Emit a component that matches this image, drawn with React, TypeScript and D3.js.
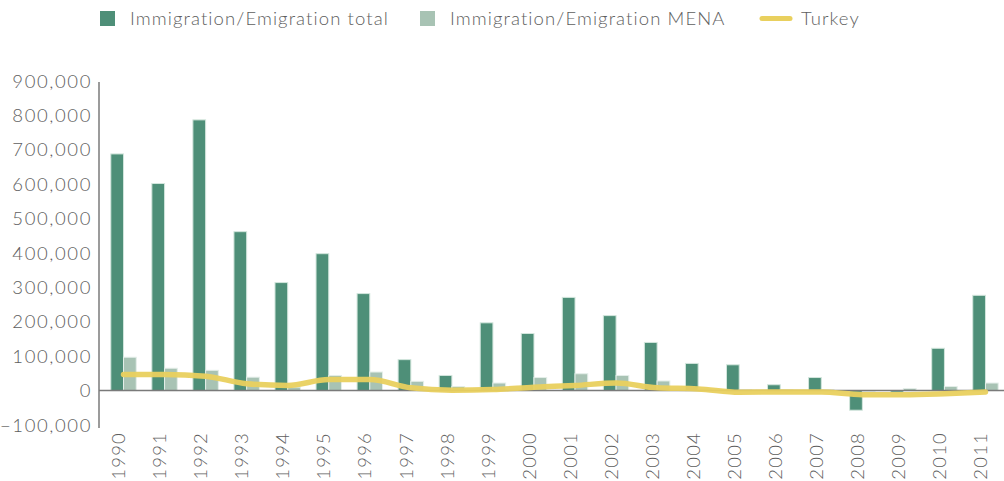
import React from 'react';
import * as d3 from 'd3';

// values
const years = ['1990', '1991', '1992', '1993', '1994', '1995', '1996', '1997', '1998', '1999', '2000',
  '2001', '2002', '2003', '2004', '2005', '2006', '2007', '2008', '2009', '2010', '2011'];
const totalValues = [688000, 602000, 787000, 462000, 314000, 398000, 282000, 90000, 44000, 197000, 166000,
  271000, 218000, 140000, 79000, 75000, 17000, 38000, -57000, -5000, 123000, 277000];
const menaValues = [97000, 65000, 59000, 39000, 10000, 44000, 54000, 27000, 12000, 22000, 38000,
  49000, 44000, 28000, 3000, 2000, 2000, 2000, -2000, 6000, 12000, 22000];
const turkeyValues = [47000, 47000, 42000, 20000, 15000, 32000, 32000, 8000, 1000, 3000, 10000,
  15000, 22000, 8000, 5000, -5000, -4000, -4000, -12000, -12000, -9000, -4000];
const yTicks = [-100000, 0, 100000, 200000, 300000, 400000, 500000, 600000, 700000, 800000, 900000];
const seriesNames = ['Immigration/Emigration total', 'Immigration/Emigration MENA', 'Turkey'];

const W = 1004;
const H = 481;
const font = 'Lato, "Open Sans", sans-serif';
const totalColor = '#4e8f78';
const menaColor = '#a8c3b4';
const lineColor = '#e9d05e';
const textColor = '#5e5e5e';

export default function App() {
  const x = d3.scaleBand<string>().domain(years).range([103, 1006]).paddingInner(0.38).paddingOuter(0.19);
  const sub = d3.scaleBand<string>().domain(['total', 'mena']).range([0, x.bandwidth()]);
  const y = d3.scaleLinear().domain([-100000, 900000]).range([425, 81]);
  const fmt = d3.format(',');

  const line = d3.line<number>()
    .x((_, i) => x(years[i])! + x.bandwidth() / 2)
    .y(d => y(d))
    .curve(d3.curveMonotoneX);

  const bar = (v: number) => ({ y: Math.min(y(v), y(0)), h: Math.abs(y(v) - y(0)) });

  return (
    <svg width={W} height={H} style={{ position: 'absolute', left: 0, top: 0, background: '#fff' }}
      fontFamily={font} fontWeight={300}>
      {/* legend */}
      <g fontSize={18.5} fill={textColor} letterSpacing={1.1}>
        <rect x={100} y={11} width={15} height={15} fill={totalColor} />
        <text x={130} y={25}>{seriesNames[0]}</text>
        <rect x={420} y={11} width={15} height={15} fill={menaColor} />
        <text x={450} y={25}>{seriesNames[1]}</text>
        <line x1={762} x2={790} y1={18.5} y2={18.5} stroke={lineColor} strokeWidth={5} strokeLinecap="round" />
        <text x={801} y={25}>{seriesNames[2]}</text>
      </g>

      {/* y axis labels */}
      <g fontSize={18.5} fill={textColor} textAnchor="end" letterSpacing={1.6}>
        {yTicks.map(t => (
          <text key={t} x={92} y={y(t)} dy="0.36em">{fmt(t)}</text>
        ))}
      </g>

      {/* bars */}
      <g>
        {years.map((yr, i) => {
          const a = bar(totalValues[i]);
          const b = bar(menaValues[i]);
          return (
            <g key={yr} transform={`translate(${x(yr)},0)`}>
              <rect x={sub('total')} y={a.y} width={sub.bandwidth()} height={a.h}
                fill={totalColor} stroke="#d3e6dd" strokeWidth={1} />
              <rect x={sub('mena')} y={b.y} width={sub.bandwidth()} height={b.h}
                fill={menaColor} stroke="#e4eee9" strokeWidth={1} />
            </g>
          );
        })}
      </g>

      {/* axes lines */}
      <line x1={99} x2={99} y1={82} y2={428} stroke="#7a7a7a" strokeWidth={1.5} />
      <line x1={99} x2={W} y1={y(0)} y2={y(0)} stroke="#7a7a7a" strokeWidth={1.5} />

      {/* Turkey line */}
      <path d={line(turkeyValues)!} fill="none" stroke={lineColor} strokeWidth={5.5} strokeLinejoin="round"
        strokeLinecap="round" strokeOpacity={0.95} />

      {/* x labels */}
      <g fontSize={18.5} fill={textColor} textAnchor="end" letterSpacing={1.2}>
        {years.map(yr => {
          const cx = x(yr)! + x.bandwidth() / 2 - 5;
          return (
            <text key={yr} transform={`translate(${cx},432) rotate(-90)`} dy="0.36em">{yr}</text>
          );
        })}
      </g>
    </svg>
  );
}
